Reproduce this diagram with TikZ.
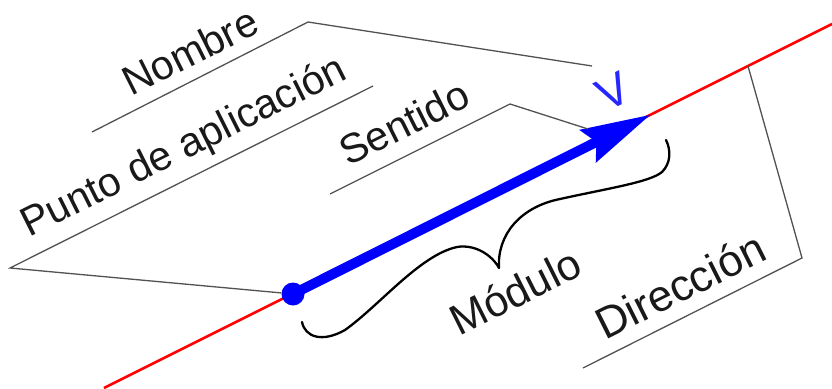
\documentclass[tikz,border=0pt]{standalone}
\usepackage{fontspec}
\setmainfont{Liberation Sans}
\usetikzlibrary{calc}
\begin{document}
\begin{tikzpicture}[x=1pt,y=-1pt,
  lbl/.style={anchor=base west, inner sep=0pt, rotate=26.57,
              font=\fontsize{41}{48}\selectfont, text=black!90},
  vlbl/.style={anchor=base, inner sep=0pt, rotate=26.57,
              font=\fontsize{46}{50}\selectfont, text=blue!85},
  leader/.style={draw=black!68, line width=1.3pt, line join=miter},
  dirline/.style={draw=red, line width=2.6pt},
  vecline/.style={draw=blue, line width=10pt},
  bracestyle/.style={draw=black, line width=2.3pt, line cap=round, line join=round}]
\useasboundingbox (0,0) rectangle (832,388);
\fill[white] (0,0) rectangle (832,388);

% labels
\node[lbl] (nombre) at (131,97) {Nombre};
\node[lbl] (punto) at (29,238) {Punto de aplicación};
\node[lbl] (sentido) at (348,167) {Sentido};
\node[lbl, font=\fontsize{43}{48}\selectfont] (modulo) at (459,337) {Módulo};
\node[lbl, font=\fontsize{44}{48}\selectfont] (direccion) at (605,341) {Dirección};
\node[vlbl] (V) at (620,106) {V};

% red direction line
\coordinate (dirA) at (104,388);
\coordinate (dirB) at (832,24);
\draw[dirline] (dirA) -- (dirB);

% vector
\node[circle, fill=blue, inner sep=0pt, minimum size=23pt] (P) at (293,294) {};
\coordinate (T) at (650,115);
\coordinate (hb) at ($(T)!70pt!(P.center)$);
\coordinate (hn) at ($(T)!60pt!(P.center)$);
\coordinate (h1) at ($(hb)!18.5pt!90:(T)$);
\coordinate (h2) at ($(hb)!18.5pt!-90:(T)$);
\draw[vecline] (P.center) -- (hn);
\fill[blue] (T) -- (h1) -- (hn) -- (h2) -- cycle;

% leaders
\coordinate (n1) at (92,132);
\coordinate (n2) at (308,22);
\coordinate (n3) at (592,66);
\draw[leader] (n1) -- (n2) -- (n3);

\coordinate (p1) at (10,268);
\coordinate (p2) at (373,86);
\draw[leader] (p2) -- (p1) -- (P);

\coordinate (s1) at (330,194);
\coordinate (s2) at (510,104);
\coordinate (s3) at (588,129);
\draw[leader] (s1) -- (s2) -- (s3);

\coordinate (d1) at (583,368);
\coordinate (d2) at (802,258);
\coordinate (d3) at (748,66);
\draw[leader] (d1) -- (d2) -- (d3);

% brace (Modulo)
\draw[bracestyle] (302,322) .. controls (305,337) and (322,343) .. (345,330)
  .. controls (380,305) and (420,255) .. (457,247)
  .. controls (475,244) and (492,255) .. (499,268)
  .. controls (497,235) and (520,207) .. (560,199)
  .. controls (610,188) and (650,182) .. (662,172)
  .. controls (671,163) and (671,150) .. (666,140);
\end{tikzpicture}
\end{document}
